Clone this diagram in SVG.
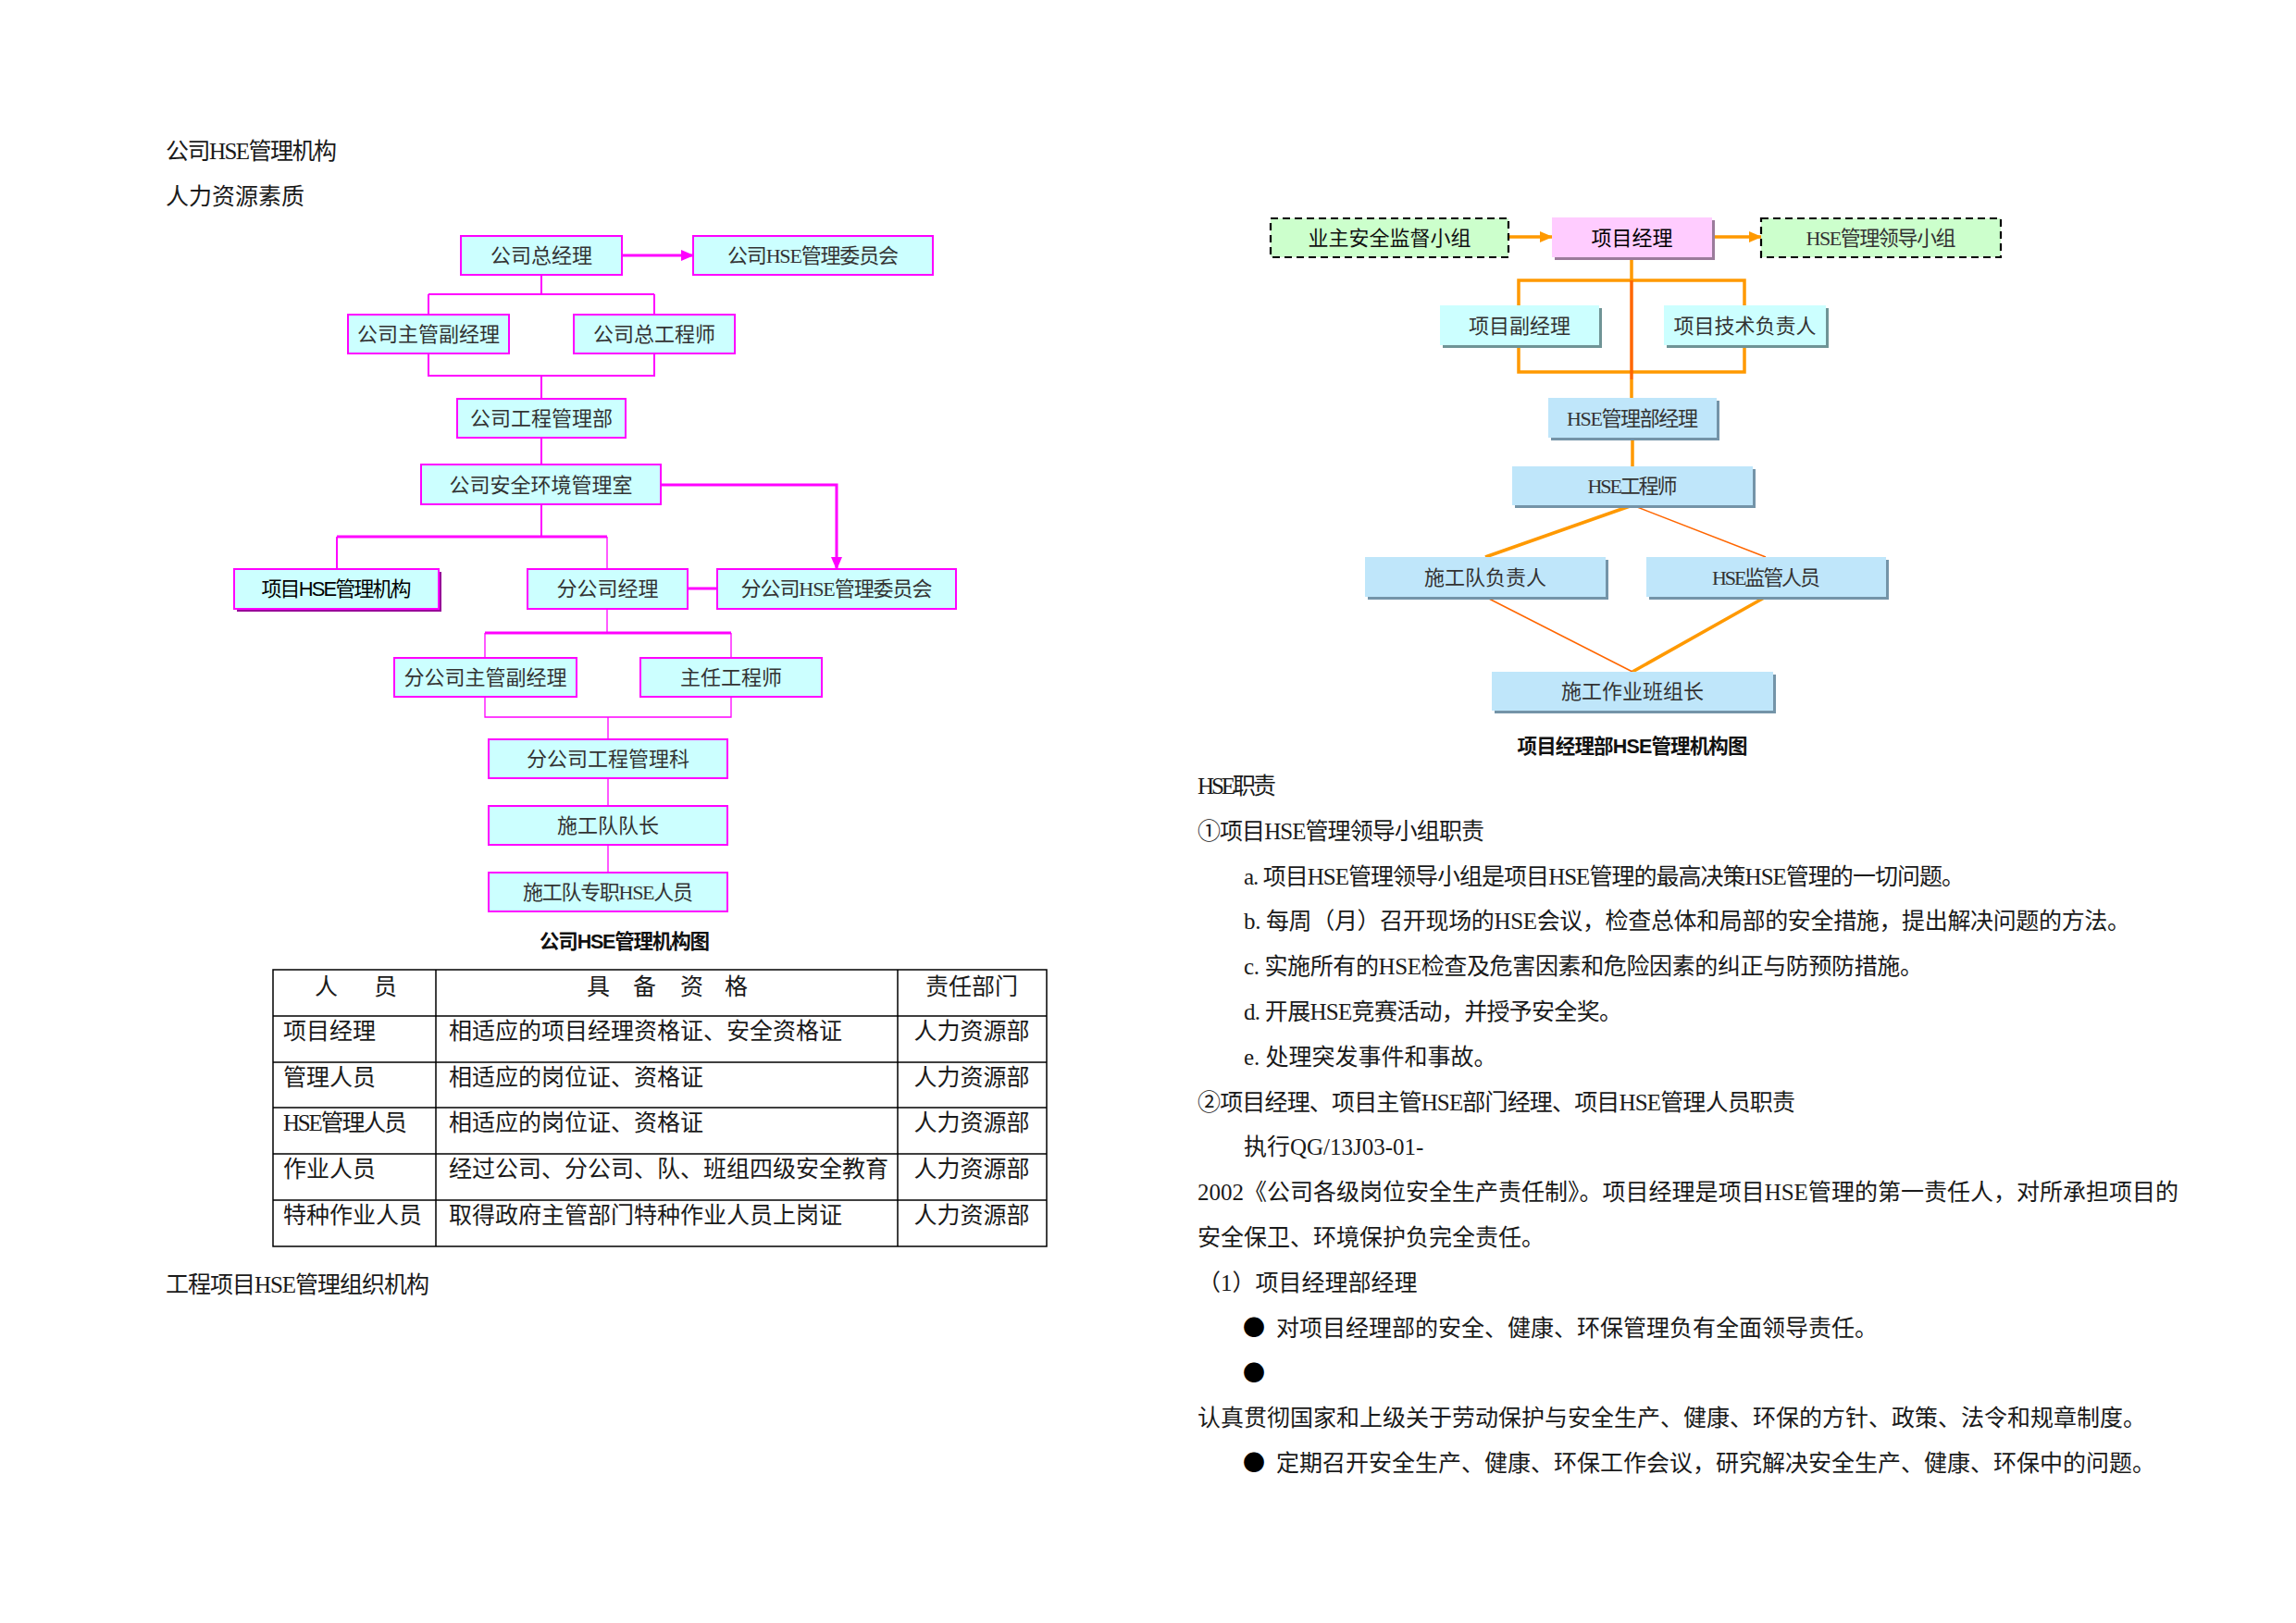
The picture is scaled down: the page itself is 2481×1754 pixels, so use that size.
<svg xmlns="http://www.w3.org/2000/svg" width="2481" height="1754" viewBox="0 0 2481 1754">
<defs>
<style>
.t{font-family:'Liberation Serif','Noto Sans CJK SC',serif;font-size:25px;fill:#1a1a1a}
.bu{font-family:'Noto Sans CJK SC',sans-serif;font-size:24px;fill:#000}
.bt{font-family:'Liberation Serif','Noto Sans CJK SC',sans-serif;font-size:22px;fill:#333;text-anchor:middle}
.cap{font-family:'Liberation Sans','Noto Sans CJK SC',sans-serif;font-size:21.5px;font-weight:bold;fill:#111;text-anchor:middle}
.mb{fill:#CCFFFF;stroke:#FF00FF;stroke-width:2}
.ml{fill:none;stroke:#FF00FF;stroke-width:2}
.ml3{fill:none;stroke:#FF00FF;stroke-width:3}
.mlt{fill:none;stroke:#FF00FF;stroke-width:1.3}
.ol{fill:none;stroke:#FF9900;stroke-width:3.5}
.rl{fill:none;stroke:#FF6600;stroke-width:3.5}
.rlt{fill:none;stroke:#FF6600;stroke-width:1.5}
.gb{fill:#CCFFCC;stroke:#000;stroke-width:2.2;stroke-dasharray:8 5}
.bb{fill:#BFE6FA}
.cb{fill:#CCFFFF}
.sb{fill:#7494A8}
.sc{fill:#6F9496}
.tbl{fill:none;stroke:#000;stroke-width:1.5}
</style>
<marker id="am" markerUnits="userSpaceOnUse" markerWidth="14" markerHeight="12" refX="13" refY="6" orient="auto">
<path d="M0,0 L14,6 L0,12 z" fill="#FF00FF"/>
</marker>
<marker id="ao" markerUnits="userSpaceOnUse" markerWidth="14" markerHeight="12" refX="13" refY="6" orient="auto">
<path d="M0,0 L14,6 L0,12 z" fill="#FF9900"/>
</marker>
</defs>
<rect width="2481" height="1754" fill="#fff"/>

<g id="left-text">
<text class="t" x="179" y="172" textLength="185">公司HSE管理机构</text>
<text class="t" x="179" y="221">人力资源素质</text>
<text class="t" x="179" y="1397" textLength="285">工程项目HSE管理组织机构</text>
</g>

<g id="connectors-company">
<path class="ml3" d="M672,276 H749" marker-end="url(#am)"/>
<path class="ml" d="M585,297 V318 M463,318 H707 M463,318 V340 M707,318 V340"/>
<path class="ml" d="M463,382 V406 H707 V382 M585,406 V431"/>
<path class="ml" d="M585,473 V502"/>
<path class="ml3" d="M714,524 H904 V615" marker-end="url(#am)"/>
<path class="ml" d="M585,545 V580 M364,580 V615"/>
<path class="ml3" d="M364,580 H656"/>
<path class="mlt" d="M656,580 V615"/>
<path class="ml3" d="M743,636 H775"/>
<path class="mlt" d="M656,658 V684"/>
<path class="ml3" d="M524,684 H790"/>
<path class="mlt" d="M524,684 V711 M790,684 V711 M524,753 V775 H790 V753 M657,775 V799 M657,841 V871 M657,913 V943"/>
</g>

<g id="n-c1"><rect class="mb" x="498" y="255" width="174" height="42"/><text class="bt" x="585" y="284">公司总经理</text></g>
<g id="n-c2"><rect class="mb" x="749" y="255" width="259" height="42"/><text class="bt" x="878.5" y="284" textLength="185">公司HSE管理委员会</text></g>
<g id="n-c3"><rect class="mb" x="376" y="340" width="174" height="42"/><text class="bt" x="463" y="369">公司主管副经理</text></g>
<g id="n-c4"><rect class="mb" x="620" y="340" width="174" height="42"/><text class="bt" x="707" y="369">公司总工程师</text></g>
<g id="n-c5"><rect class="mb" x="494" y="431" width="182" height="42"/><text class="bt" x="585" y="460">公司工程管理部</text></g>
<g id="n-c6"><rect class="mb" x="455" y="502" width="259" height="43"/><text class="bt" x="584.5" y="532">公司安全环境管理室</text></g>
<g id="n-c7"><rect x="256" y="618" width="221" height="43" fill="#990099"/><rect class="mb" x="253" y="615" width="221" height="43"/><text class="bt" x="363.5" y="644" style="font-family:'Liberation Sans','Noto Sans CJK SC',sans-serif;fill:#000" textLength="162">项目HSE管理机构</text></g>
<g id="n-c8"><rect class="mb" x="570" y="615" width="173" height="43"/><text class="bt" x="656.5" y="644">分公司经理</text></g>
<g id="n-c9"><rect class="mb" x="775" y="615" width="258" height="43"/><text class="bt" x="904" y="644" textLength="207">分公司HSE管理委员会</text></g>
<g id="n-c10"><rect class="mb" x="426" y="711" width="197" height="42"/><text class="bt" x="524.5" y="740">分公司主管副经理</text></g>
<g id="n-c11"><rect class="mb" x="692" y="711" width="196" height="42"/><text class="bt" x="790" y="740">主任工程师</text></g>
<g id="n-c12"><rect class="mb" x="528" y="799" width="258" height="42"/><text class="bt" x="657" y="828">分公司工程管理科</text></g>
<g id="n-c13"><rect class="mb" x="528" y="871" width="258" height="42"/><text class="bt" x="657" y="900">施工队队长</text></g>
<g id="n-c14"><rect class="mb" x="528" y="943" width="258" height="42"/><text class="bt" x="657" y="972" textLength="184">施工队专职HSE人员</text></g>
<text class="cap" x="675" y="1025" textLength="184">公司HSE管理机构图</text>

<g id="table">
<rect class="tbl" x="295" y="1048" width="836" height="299"/>
<path class="tbl" d="M471,1048 V1347 M970,1048 V1347 M295,1098 H1131 M295,1148 H1131 M295,1197 H1131 M295,1247 H1131 M295,1297 H1131"/>
<text class="t" x="340 404" y="1075">人员</text>
<text class="t" x="634 684 735 783" y="1075">具备资格</text>
<text class="t" x="1050" y="1075" text-anchor="middle">责任部门</text>
<text class="t" x="306" y="1123">项目经理</text>
<text class="t" x="485" y="1123">相适应的项目经理资格证、安全资格证</text>
<text class="t" x="1050" y="1123" text-anchor="middle">人力资源部</text>
<text class="t" x="306" y="1173">管理人员</text>
<text class="t" x="485" y="1173">相适应的岗位证、资格证</text>
<text class="t" x="1050" y="1173" text-anchor="middle">人力资源部</text>
<text class="t" x="306" y="1222" textLength="134">HSE管理人员</text>
<text class="t" x="485" y="1222">相适应的岗位证、资格证</text>
<text class="t" x="1050" y="1222" text-anchor="middle">人力资源部</text>
<text class="t" x="306" y="1272">作业人员</text>
<text class="t" x="485" y="1272">经过公司、分公司、队、班组四级安全教育</text>
<text class="t" x="1050" y="1272" text-anchor="middle">人力资源部</text>
<text class="t" x="306" y="1322">特种作业人员</text>
<text class="t" x="485" y="1322">取得政府主管部门特种作业人员上岗证</text>
<text class="t" x="1050" y="1322" text-anchor="middle">人力资源部</text>
</g>

<g id="connectors-project">
<path class="ol" d="M1630,256 H1677" marker-end="url(#ao)"/>
<path class="ol" d="M1850,256 H1903" marker-end="url(#ao)"/>
<path class="ol" d="M1763,278 V303 M1641,330 V303 H1885 V330 M1641,373 V402 H1885 V373 M1763,410 V430 M1764,473 V504"/>
<path class="rl" d="M1763,303 V410"/>
<path class="ol" d="M1764,546 L1605,602 M1908,645 L1764,726"/>
<path class="rlt" d="M1764,546 L1908,602 M1605,645 L1764,726"/>
</g>

<g id="n-p1"><rect class="gb" x="1373" y="236" width="257" height="42"/><text class="bt" x="1501.5" y="265" style="fill:#111">业主安全监督小组</text></g>
<g id="n-p2"><rect x="1680" y="238" width="173" height="43" fill="#9B7B9B"/><rect x="1677" y="235" width="173" height="43" fill="#FFCCFF"/><text class="bt" x="1763.5" y="264.5" style="fill:#000">项目经理</text></g>
<g id="n-p3"><rect class="gb" x="1903" y="236" width="259" height="42"/><text class="bt" x="2032.5" y="265" textLength="162">HSE管理领导小组</text></g>
<g id="n-p4"><rect class="sc" x="1559" y="333" width="172" height="43"/><rect class="cb" x="1556" y="330" width="172" height="43"/><text class="bt" x="1642" y="360">项目副经理</text></g>
<g id="n-p5"><rect class="sc" x="1801" y="333" width="175" height="43"/><rect class="cb" x="1798" y="330" width="175" height="43"/><text class="bt" x="1885.5" y="360">项目技术负责人</text></g>
<g id="n-p6"><rect class="sb" x="1676" y="433" width="182" height="43"/><rect class="bb" x="1673" y="430" width="182" height="43"/><text class="bt" x="1764" y="460" textLength="142">HSE管理部经理</text></g>
<g id="n-p7"><rect class="sb" x="1637" y="507" width="260" height="42"/><rect class="bb" x="1634" y="504" width="260" height="42"/><text class="bt" x="1764" y="533" textLength="97">HSE工程师</text></g>
<g id="n-p8"><rect class="sb" x="1478" y="605" width="260" height="43"/><rect class="bb" x="1475" y="602" width="260" height="43"/><text class="bt" x="1605" y="632">施工队负责人</text></g>
<g id="n-p9"><rect class="sb" x="1782" y="605" width="259" height="43"/><rect class="bb" x="1779" y="602" width="259" height="43"/><text class="bt" x="1908.5" y="632" textLength="117">HSE监管人员</text></g>
<g id="n-p10"><rect class="sb" x="1615" y="729" width="304" height="42"/><rect class="bb" x="1612" y="726" width="304" height="42"/><text class="bt" x="1764" y="755">施工作业班组长</text></g>
<text class="cap" x="1764" y="814" textLength="249">项目经理部HSE管理机构图</text>

<g id="right-text">
<text class="t" x="1294" y="858" textLength="85">HSE职责</text>
<text class="t" x="1294" y="907" textLength="310">①项目HSE管理领导小组职责</text>
<text class="t" x="1344" y="956" textLength="779">a. 项目HSE管理领导小组是项目HSE管理的最高决策HSE管理的一切问题。</text>
<text class="t" x="1344" y="1004" textLength="958">b. 每周（月）召开现场的HSE会议，检查总体和局部的安全措施，提出解决问题的方法。</text>
<text class="t" x="1344" y="1053" textLength="734">c. 实施所有的HSE检查及危害因素和危险因素的纠正与防预防措施。</text>
<text class="t" x="1344" y="1102" textLength="409">d. 开展HSE竞赛活动，并授予安全奖。</text>
<text class="t" x="1344" y="1151">e. 处理突发事件和事故。</text>
<text class="t" x="1294" y="1200" textLength="646">②项目经理、项目主管HSE部门经理、项目HSE管理人员职责</text>
<text class="t" x="1344" y="1248">执行QG/13J03-01-</text>
<text class="t" x="1294" y="1297" textLength="1060">2002《公司各级岗位安全生产责任制》。项目经理是项目HSE管理的第一责任人，对所承担项目的</text>
<text class="t" x="1294" y="1346">安全保卫、环境保护负完全责任。</text>
<text class="t" x="1294" y="1395">（1）项目经理部经理</text>
<text class="bu" x="1343" y="1443">●</text>
<text class="t" x="1379" y="1444">对项目经理部的安全、健康、环保管理负有全面领导责任。</text>
<text class="bu" x="1343" y="1492">●</text>
<text class="t" x="1294" y="1541">认真贯彻国家和上级关于劳动保护与安全生产、健康、环保的方针、政策、法令和规章制度。</text>
<text class="bu" x="1343" y="1589">●</text>
<text class="t" x="1379" y="1590">定期召开安全生产、健康、环保工作会议，研究解决安全生产、健康、环保中的问题。</text>
</g>
</svg>
